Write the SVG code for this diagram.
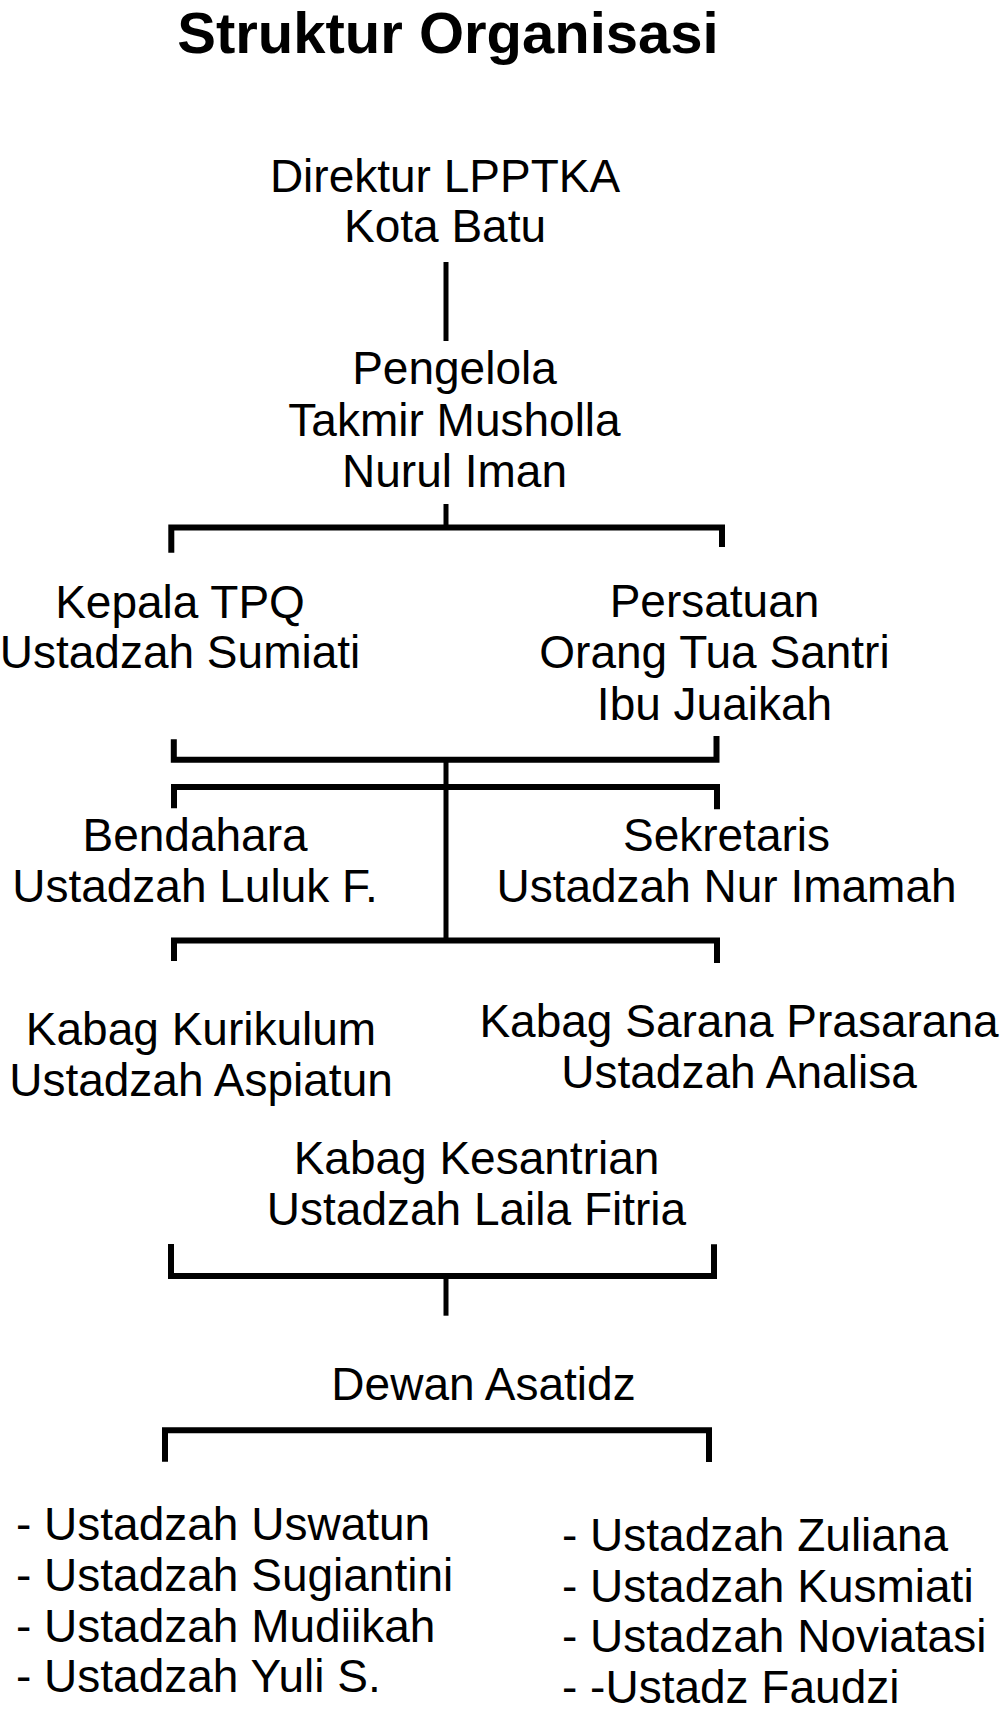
<svg xmlns="http://www.w3.org/2000/svg" width="1001" height="1711" viewBox="0 0 1001 1711">
<style>
text{font-family:"Liberation Sans",Arial,sans-serif;font-size:46px;fill:#000;text-anchor:middle}
.title{font-weight:bold;font-size:58px}
.list{text-anchor:start}
.c{fill:none;stroke:#000;stroke-width:6;stroke-linejoin:miter}
.v{fill:none;stroke:#000;stroke-width:5}
</style>
<rect width="1001" height="1711" fill="#fff"/>
<g id="title"><text class="title" x="448" y="52.5">Struktur Organisasi</text></g>
<g id="direktur"><text x="445" y="192">Direktur LPPTKA</text><text x="445" y="242">Kota Batu</text></g>
<g id="pengelola"><text x="454.5" y="384">Pengelola</text><text x="454.5" y="435.5">Takmir Musholla</text><text x="454.5" y="487">Nurul Iman</text></g>
<g id="kepala-tpq"><text x="180" y="618">Kepala TPQ</text><text x="180" y="668">Ustadzah Sumiati</text></g>
<g id="persatuan"><text x="714.5" y="617">Persatuan</text><text x="714.5" y="668">Orang Tua Santri</text><text x="714.5" y="720">Ibu Juaikah</text></g>
<g id="bendahara"><text x="195" y="850.5">Bendahara</text><text x="195" y="902">Ustadzah Luluk F.</text></g>
<g id="sekretaris"><text x="726.5" y="850.5">Sekretaris</text><text x="726.5" y="902">Ustadzah Nur Imamah</text></g>
<g id="kurikulum"><text x="201" y="1044.5">Kabag Kurikulum</text><text x="201" y="1095.5">Ustadzah Aspiatun</text></g>
<g id="sarana"><text x="739" y="1037">Kabag Sarana Prasarana</text><text x="739" y="1088">Ustadzah Analisa</text></g>
<g id="kesantrian"><text x="476.5" y="1173.5">Kabag Kesantrian</text><text x="476.5" y="1225">Ustadzah Laila Fitria</text></g>
<g id="dewan"><text x="483.5" y="1399.5">Dewan Asatidz</text></g>
<g id="list-left">
<text class="list" x="16" y="1540">- Ustadzah Uswatun</text>
<text class="list" x="16" y="1590.5">- Ustadzah Sugiantini</text>
<text class="list" x="16" y="1641.5">- Ustadzah Mudiikah</text>
<text class="list" x="16" y="1692">- Ustadzah Yuli S.</text>
</g>
<g id="list-right">
<text class="list" x="562" y="1551">- Ustadzah Zuliana</text>
<text class="list" x="562" y="1601.5">- Ustadzah Kusmiati</text>
<text class="list" x="562" y="1652">- Ustadzah Noviatasi</text>
<text class="list" x="562" y="1703">- -Ustadz Faudzi</text>
</g>
<g id="connectors">
<line class="v" x1="446" y1="262" x2="446" y2="341"/>
<line class="v" x1="446" y1="504" x2="446" y2="527"/>
<path class="c" d="M171.3,552.7 V527.5 H722 V547"/>
<path class="c" d="M173.8,739.3 V759.7 H716.5 V736"/>
<line class="v" x1="446" y1="759" x2="446" y2="941"/>
<path class="c" d="M174,808.3 V787 H717 V809.3"/>
<path class="c" d="M174,961 V940.5 H717 V963"/>
<path class="c" d="M171,1244 V1276 H714 V1244.3"/>
<line class="v" x1="446" y1="1276" x2="446" y2="1315.7"/>
<path class="c" d="M165,1461.7 V1430.3 H709 V1462"/>
</g>
</svg>
